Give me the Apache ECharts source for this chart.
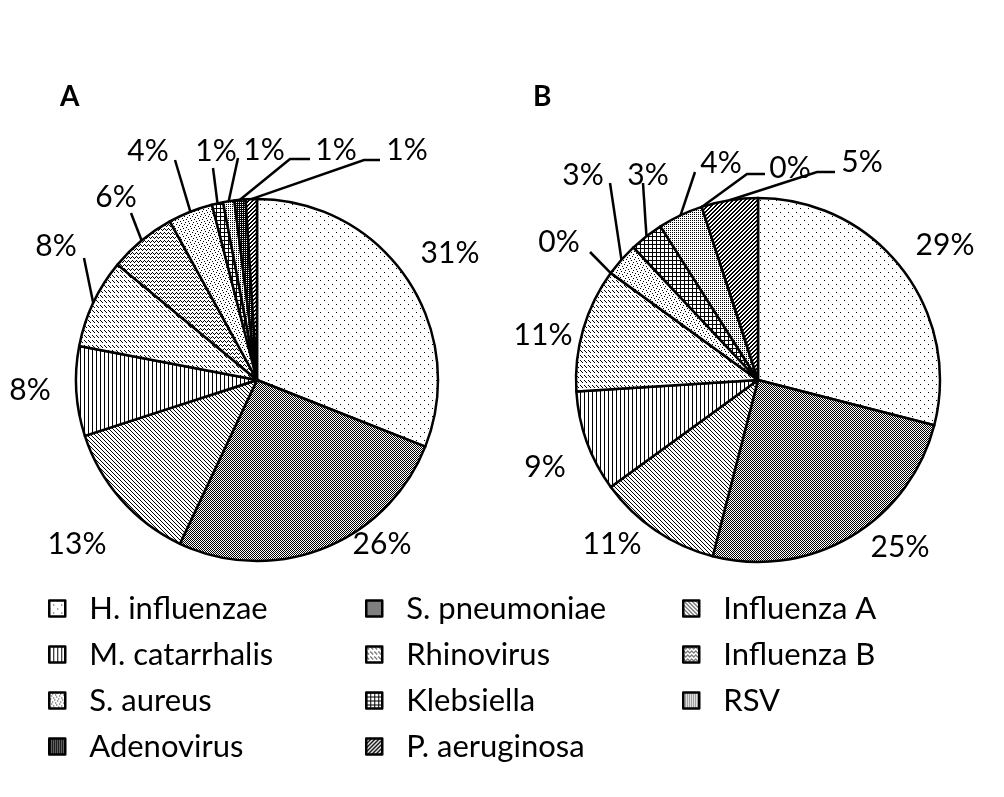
<!DOCTYPE html>
<html><head><meta charset="utf-8">
<script src="https://cdn.jsdelivr.net/npm/echarts@6/dist/echarts.min.js"></script>
<style>html,body{margin:0;padding:0;background:#fff}#c{width:1004px;height:797px}</style>
</head><body><div id="c"></div>
<script>
// ---- data ----
const categories = ['H. influenzae','S. pneumoniae','Influenza A','M. catarrhalis','Rhinovirus','Influenza B','S. aureus','Klebsiella','RSV','Adenovirus','P. aeruginosa'];
const valuesA = [31, 26, 13, 8, 8, 6, 4, 1, 1, 1, 1];
const valuesB = [29, 25, 11, 9, 11, 0, 3, 3, 4, 0, 5];
const panelTitles = ['A', 'B'];
const legendColumns = [
  ['H. influenzae', 'M. catarrhalis', 'S. aureus', 'Adenovirus'],
  ['S. pneumoniae', 'Rhinovirus', 'Klebsiella', 'P. aeruginosa'],
  ['Influenza A', 'Influenza B', 'RSV']
];

// ---- layout (label placement, leader-line attach offsets [dx, dy, stub]) ----
const labelPosA = [[450,253],[382,544],[77,544],[30,390],[56,246],[116,197],[148,151],[216,151],[264,150],[336,150],[407,150]];
const labelPosB = [[945,245],[900,547],[612,544],[545,467],[543,335],[559,242],[583,175],[648,175],[721,163],[790,168],[862,162]];
const leaderA = [null, null, null, null, [28,12,0], [15,16,0], [27,9,0], [-3,17,0], [-26,8,0], [-26,9,20], [-27,10,16]];
const leaderB = [null, null, null, null, null, [31,10,0], [27,8,0], [-5,8,0], [-26,9,0], [-25,6,18], [-27,10,18]];

// ---- fill patterns (pixel tiles) ----
function pat(w, h, fn) {
  const c = document.createElement('canvas'); c.width = w; c.height = h;
  const g = c.getContext('2d');
  g.fillStyle = '#fff'; g.fillRect(0, 0, w, h);
  g.fillStyle = '#000';
  for (let y = 0; y < h; y++) for (let x = 0; x < w; x++) if (fn(x, y)) g.fillRect(x, y, 1, 1);
  return { image: c, repeat: 'repeat' };
}
const patterns = [
  pat(8, 8, (x, y) => (x === 0 && y === 0) || (x === 4 && y === 4)),      // H. influenzae
  pat(2, 2, (x, y) => (x + y) % 2 === 0),                                 // S. pneumoniae
  pat(4, 4, (x, y) => x === y),                                           // Influenza A
  pat(4, 1, (x) => x === 0),                                              // M. catarrhalis
  pat(4, 5, (x, y) => y < 3 && x === y),                                  // Rhinovirus
  pat(4, 4, (x, y) => [0, 1, 2, 1][x] === y),                             // Influenza B
  pat(8, 8, (x, y) => [0, 3, 6, 2, 7, 4, 1, 5][y] === x),                 // S. aureus
  pat(4, 4, (x, y) => x === 0 || y === 0),                                // Klebsiella
  pat(2, 2, (x, y) => x === 0 && y === 0),                                // RSV
  pat(2, 2, (x, y) => !(x === 0 && y === 0)),                             // Adenovirus
  pat(4, 4, (x, y) => ((x + y) % 4) < 2)                                  // P. aeruginosa
];

function mkSeries(vals, center, radius, pos, leader) {
  return {
    type: 'pie', center: center, radius: radius, startAngle: 90, clockwise: true,
    animation: false, avoidLabelOverlap: false,
    data: categories.map((n, i) => ({ name: n, value: vals[i], itemStyle: { color: patterns[i] }, labelLine: { show: !!leader[i] } })),
    itemStyle: { borderColor: '#000', borderWidth: 2.5 },
    label: { show: true, position: 'outside', formatter: p => p.value + '%', color: '#000', fontFamily: 'Lato', fontSize: 30 },
    labelLine: { show: true, length: 10, length2: 8, minTurnAngle: 0, lineStyle: { color: '#000', width: 2.5 } },
    labelLayout: p => {
      const i = p.dataIndex, lx = pos[i][0], ly = pos[i][1];
      const out = { x: lx, y: ly, align: 'center', verticalAlign: 'middle' };
      const L = leader[i];
      if (L && p.labelLinePoints && p.labelLinePoints[0]) {
        const a = p.labelLinePoints[0];
        const ax = lx + L[0], ay = ly + L[1];
        out.labelLinePoints = L[2] ? [[a[0], a[1]], [ax - L[2], ay], [ax, ay]] : [[a[0], a[1]], [ax, ay], [ax, ay]];
      }
      return out;
    },
    emphasis: { disabled: true }
  };
}

const chart = echarts.init(document.getElementById('c'), null, { renderer: 'canvas' });
chart.setOption({
  backgroundColor: '#fff',
  animation: false,
  title: panelTitles.map((t, k) => ({ text: t, left: [60, 533][k], top: 83, padding: 0,
    textStyle: { fontFamily: 'Lato', fontWeight: 'bold', fontSize: 28, color: '#000' } })),
  legend: legendColumns.map((col, k) => ({
    orient: 'vertical', left: [48, 365, 682][k], top: 593, data: col, padding: 0,
    itemWidth: 16, itemHeight: 16, itemGap: 15, icon: 'rect', selectedMode: false,
    itemStyle: { borderColor: '#000', borderWidth: 2.5 },
    textStyle: { fontFamily: 'Lato', fontSize: 31, color: '#000', padding: [0, 0, 0, 19], lineHeight: 30 }
  })),
  series: [
    mkSeries(valuesA, [257, 380], 181, labelPosA, leaderA),
    mkSeries(valuesB, [758, 380], 182, labelPosB, leaderB)
  ]
});
</script></body></html>
